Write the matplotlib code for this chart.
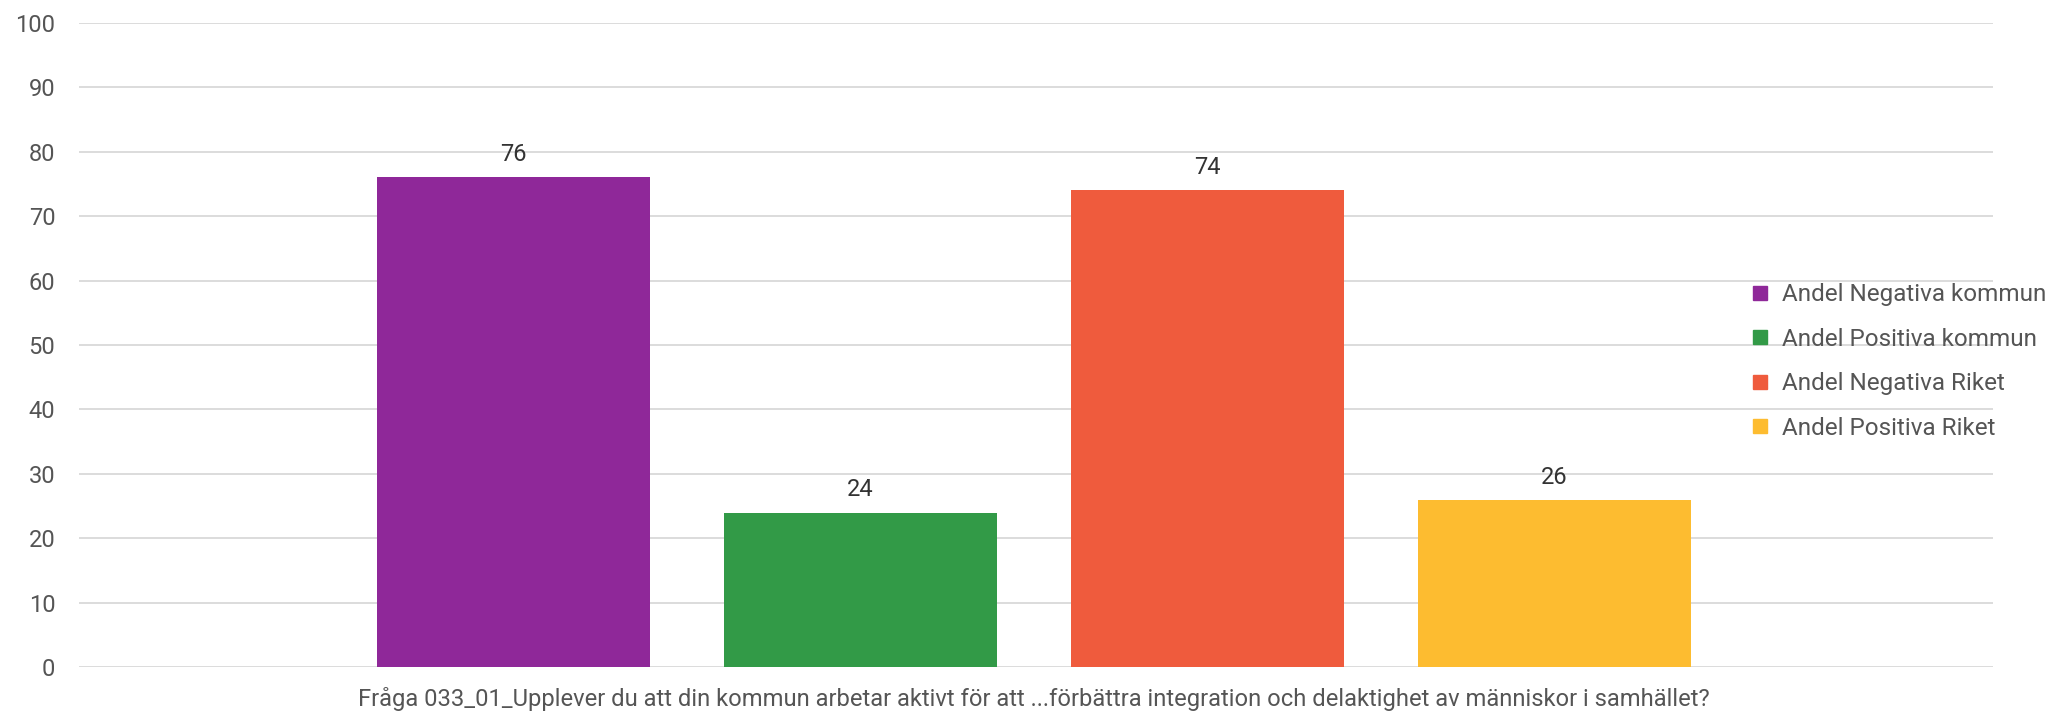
import matplotlib
matplotlib.use("Agg")
import matplotlib.pyplot as plt
from matplotlib.lines import Line2D
import numpy as np

plt.rcParams['font.family'] = ['Roboto', 'DejaVu Sans']

category = "Fråga 033_01_Upplever du att din kommun arbetar aktivt för att ...förbättra integration och delaktighet av människor i samhället?"
series = ["Andel Negativa kommun", "Andel Positiva kommun",
          "Andel Negativa Riket", "Andel Positiva Riket"]
values = [76, 24, 74, 26]
colors = ["#8f2899", "#329a47", "#ef5b3d", "#fdbc30"]
yticks = list(range(0, 101, 10))

fig = plt.figure(figsize=(20.5, 7.11), dpi=100)
ax = fig.add_axes([79 / 2050, 1 - 667.3 / 711, (1993 - 79) / 2050, (667.3 - 22.7) / 711])

x = np.arange(len(values))
bars = ax.bar(x, values, width=0.787, color=colors, zorder=2)
for b, v in zip(bars, values):
    ax.annotate(str(v), (b.get_x() + b.get_width() / 2, v), xytext=(0, 8),
                textcoords='offset points', ha='center', va='bottom',
                fontsize=17, color='#333333')

ax.set_xlim(-1.2536, 4.265)
ax.set_ylim(0, 100)
ax.set_yticks(yticks)
ax.set_yticklabels([str(t) for t in yticks], fontsize=17, color='#555555')
ax.set_xticks([x.mean()])
ax.set_xticklabels([category], fontsize=17.15, color='#555555')
ax.tick_params(axis='both', length=0)
ax.tick_params(axis='y', pad=17)
ax.tick_params(axis='x', pad=14)
ax.grid(axis='y', color='#d9d9d9', linewidth=1.3, zorder=0)
for s in ax.spines.values():
    s.set_visible(False)

handles = [Line2D([], [], marker='s', linestyle='none', markersize=10,
                  markerfacecolor=c, markeredgecolor=c) for c in colors]
leg = fig.legend(handles, series, loc='center left',
                 bbox_to_anchor=(1750 / 2050, 1 - 361.5 / 711),
                 frameon=False, fontsize=17.5, labelcolor='#555555',
                 handlelength=0.8, handletextpad=0.5, labelspacing=0.88,
                 borderpad=0, borderaxespad=0)

fig.savefig("out.png", dpi=100)
